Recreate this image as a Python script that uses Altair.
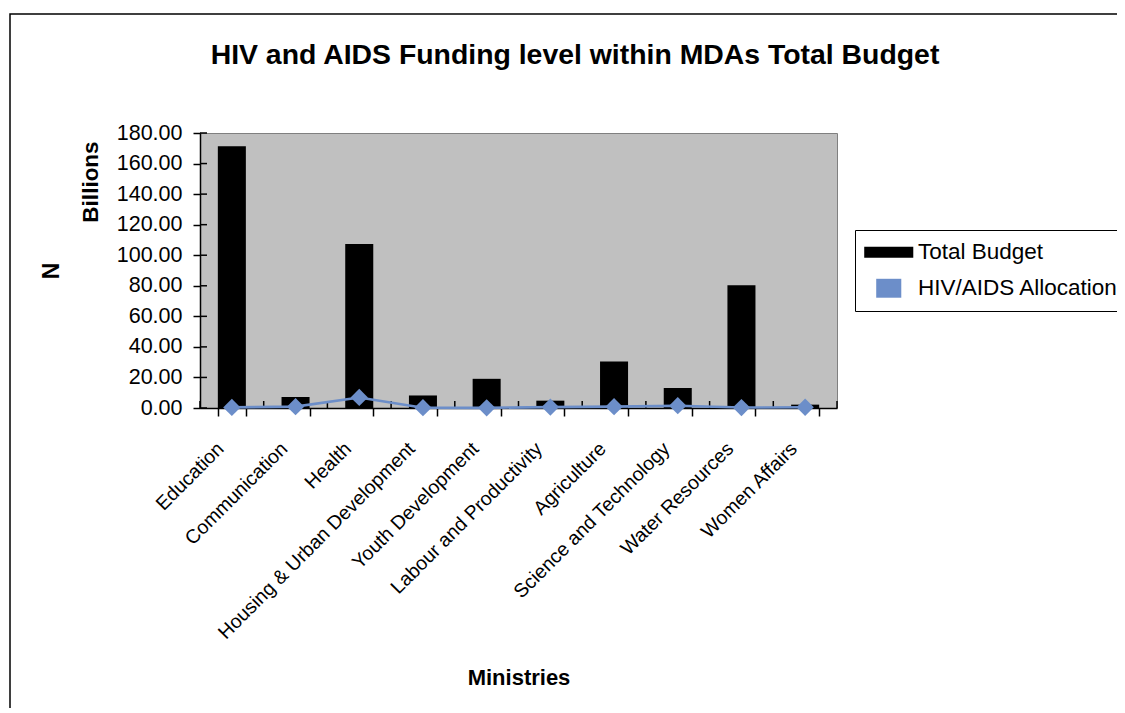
import altair as alt
import pandas as pd

# ---- data ----
ministries = [
    "Education", "Communication", "Health", "Housing & Urban Development",
    "Youth Development", "Labour and Productivity", "Agriculture",
    "Science and Technology", "Water Resources", "Women Affairs",
]
total_budget = [171.3, 7.2, 107.3, 8.2, 19.1, 4.8, 30.4, 13.1, 80.3, 2.2]
hiv_allocation = [0.4, 0.9, 6.9, 0.2, 0.1, 0.6, 0.9, 1.5, 0.3, 0.5]
y_tick_values = [0, 20, 40, 60, 80, 100, 120, 140, 160, 180]
series_names = ["Total Budget", "HIV/AIDS Allocation"]
series_colors = ["#000000", "#6C8EC9"]
legend_shapes = ["M-2.23,-0.5H2.23V0.5H-2.23Z", "M-1.14,-0.86H1.14V0.86H-1.14Z"]
chart_title = "HIV and AIDS Funding level within MDAs Total Budget"
x_title = "Ministries"
y_title = "N"
units_label = "Billions"

FONT = "Liberation Sans"
W, H = 637, 275
PAD_INNER, PAD_OUTER = 0.56, 0.28
STEP = W / (len(ministries) - PAD_INNER + 2 * PAD_OUTER)
EDGE = PAD_OUTER * STEP

df_budget = pd.DataFrame({"ministry": ministries, "value": total_budget,
                          "series": [series_names[0]] * len(ministries)})
df_hiv = pd.DataFrame({"ministry": ministries, "value": hiv_allocation})
df_yticks = pd.DataFrame({"value": y_tick_values})
df_xticks = pd.DataFrame({"ministry": ministries})
df_xend = pd.DataFrame({"ministry": ministries[-1:]})
df_keys = pd.DataFrame({"series": series_names})
df_one = pd.DataFrame({"t": [chart_title], "u": [units_label]})

x_scale = alt.Scale(domain=ministries, paddingInner=PAD_INNER, paddingOuter=PAD_OUTER)
y_scale = alt.Scale(domain=[0, 180], nice=False, zero=True)
color_scale = alt.Scale(domain=series_names, range=series_colors)
shape_scale = alt.Scale(domain=series_names, range=legend_shapes)

x_axis = alt.Axis(
    title=x_title, titleFontSize=22, titleFontWeight="bold", titleColor="black",
    titleBaseline="alphabetic", titleY=276,
    labelAngle=-45, labelFontSize=19.5, labelColor="black", labelPadding=23,
    labelOffset=-18, labelLimit=400, labelOverlap=False,
    tickSize=8, tickColor="black", tickWidth=1.5, tickBand="extent",
    domainColor="black", domainWidth=1.5,
)
y_axis = alt.Axis(
    title=y_title, titleFontSize=23, titleFontWeight="bold", titleColor="black",
    titleAngle=270, titleBaseline="alphabetic", titleX=-142, titleY=137.5,
    values=y_tick_values, tickCount=len(y_tick_values), format=".2f",
    labelFontSize=21.5, labelColor="black",
    labelPadding=11, labelOverlap=False, tickSize=7, tickColor="black", tickWidth=1.5,
    domainColor="black", domainWidth=1.5, grid=False,
)

legend = alt.Legend(
    title=None, orient="none", legendX=655, legendY=97, direction="vertical",
    labelFontSize=22.5, labelFont=FONT, labelColor="black", labelLimit=400,
    symbolSize=484, symbolStrokeWidth=0, symbolOpacity=1, symbolOffset=11.5, labelOffset=18,
    padding=11, rowPadding=13, strokeColor="black", fillColor="white",
)

frame = alt.Chart(df_one).mark_rect(fill="transparent", stroke="black", strokeWidth=1.5).encode(
    x=alt.value(-190), x2=alt.value(1300), y=alt.value(-119), y2=alt.value(900)
)

bars = alt.Chart(df_budget).mark_bar().encode(
    x=alt.X("ministry:N", sort=ministries, scale=x_scale, axis=x_axis),
    y=alt.Y("value:Q", scale=y_scale, axis=y_axis),
    color=alt.Color("series:N", scale=color_scale, legend=legend),
)

# invisible layer that only provides the legend keys (colour + key shape)
legend_keys = alt.Chart(df_keys).mark_point(filled=True, opacity=0, size=1).encode(
    color=alt.Color("series:N", scale=color_scale, legend=legend),
    shape=alt.Shape("series:N", scale=shape_scale, legend=legend),
    x=alt.value(0), y=alt.value(0),
)

y_inner_ticks = alt.Chart(df_yticks).mark_rule(color="black", strokeWidth=1.5).encode(
    y=alt.Y("value:Q"), x=alt.value(0), x2=alt.value(7)
)
x_inner_ticks = alt.Chart(df_xticks).mark_rule(color="black", strokeWidth=1.5, xOffset=-EDGE).encode(
    x=alt.X("ministry:N", sort=ministries, bandPosition=0), y=alt.value(H - 7), y2=alt.value(H)
)
x_inner_end = alt.Chart(df_xend).mark_rule(color="black", strokeWidth=1.5, xOffset=EDGE).encode(
    x=alt.X("ministry:N", sort=ministries, bandPosition=1), y=alt.value(H - 7), y2=alt.value(H)
)

line = alt.Chart(df_hiv).mark_line(color=series_colors[1], strokeWidth=2.6).encode(
    x=alt.X("ministry:N", sort=ministries), y=alt.Y("value:Q")
)
points = alt.Chart(df_hiv).mark_point(shape="diamond", filled=True, size=300,
                                      color=series_colors[1], opacity=1).encode(
    x=alt.X("ministry:N", sort=ministries), y=alt.Y("value:Q")
)

title_mark = alt.Chart(df_one).mark_text(
    fontSize=28.4, fontWeight="bold", font=FONT, color="black", align="center", baseline="alphabetic"
).encode(text="t:N", x=alt.value(375), y=alt.value(-69))

units_mark = alt.Chart(df_one).mark_text(
    fontSize=22.5, fontWeight="bold", font=FONT, color="black", align="center",
    baseline="alphabetic", angle=270
).encode(text="u:N", x=alt.value(-102), y=alt.value(49))

chart = alt.layer(
    frame, bars, legend_keys, y_inner_ticks, x_inner_ticks, x_inner_end, line, points,
    title_mark, units_mark
).properties(
    width=W, height=H,
    autosize=alt.AutoSizeParams(type="none"),
    padding={"left": 192, "top": 125, "right": 280, "bottom": 300},
    background="white",
).configure_view(
    fill="#C0C0C0", stroke="#808080", strokeWidth=1
).configure_axis(
    labelFont=FONT, titleFont=FONT
).configure_legend(
    labelFont=FONT
)

chart.save("out.html", embed_options={"renderer": "svg", "actions": False})
